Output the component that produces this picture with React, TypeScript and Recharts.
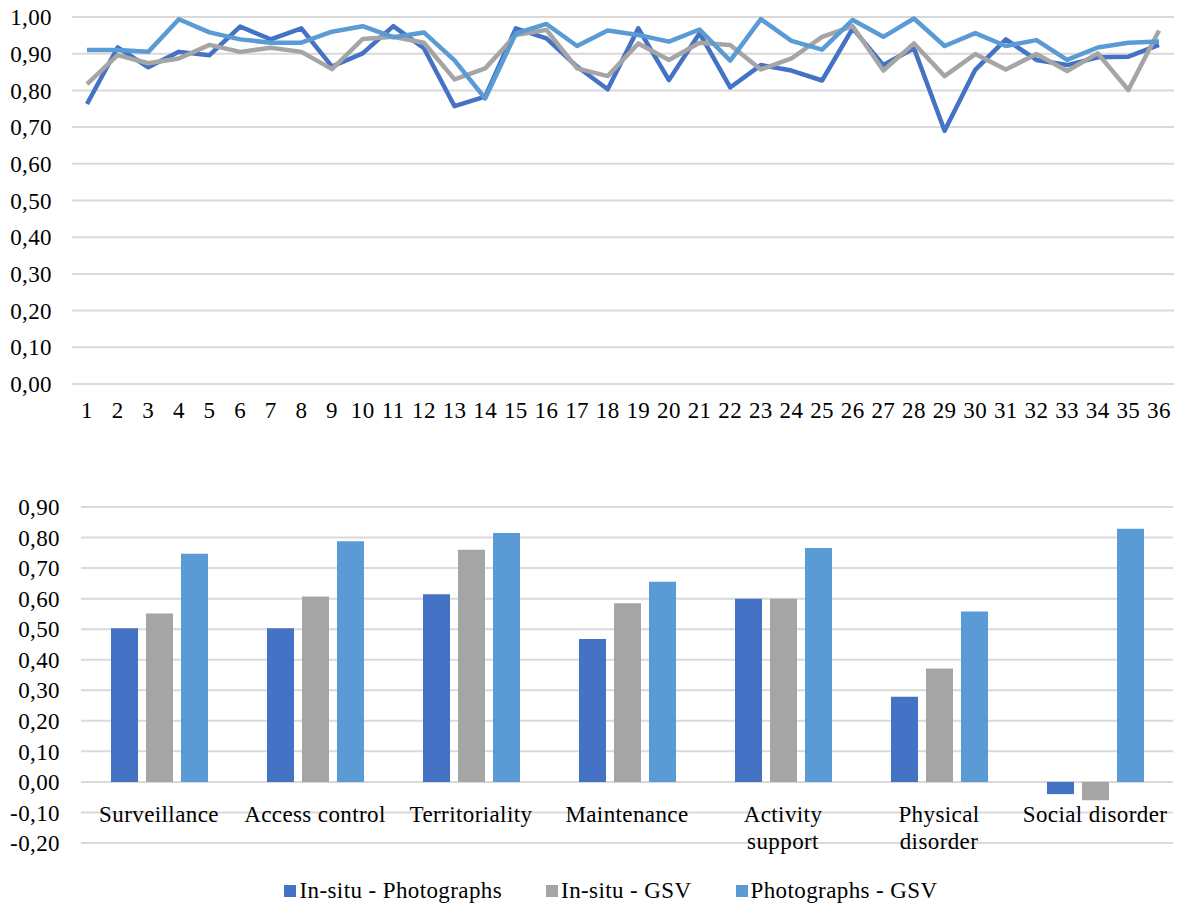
import React from 'react'
import {
  LineChart, Line, BarChart, Bar, XAxis, YAxis, CartesianGrid,
} from 'recharts'

const FONT = '"Liberation Serif", "Times New Roman", serif'
const GRID = '#d9d9d9'

const seriesNames = ['In-situ - Photographs', 'In-situ - GSV', 'Photographs - GSV']
const seriesColors = ['#4472C4', '#A5A5A5', '#5B9BD5']

// top chart: agreement per item (1..36)
const items = Array.from({ length: 36 }, (_, i) => String(i + 1))
const lineInsituPhoto = [
  0.763, 0.917, 0.863, 0.905, 0.896, 0.974, 0.939, 0.969, 0.865, 0.901, 0.975, 0.915,
  0.757, 0.783, 0.969, 0.942, 0.865, 0.803, 0.969, 0.828, 0.956, 0.808, 0.869, 0.854,
  0.827, 0.969, 0.869, 0.915, 0.690, 0.856, 0.939, 0.883, 0.869, 0.890, 0.892, 0.924,
]
const lineInsituGsv = [
  0.817, 0.896, 0.874, 0.887, 0.924, 0.905, 0.916, 0.905, 0.858, 0.940, 0.946, 0.930,
  0.830, 0.860, 0.951, 0.965, 0.860, 0.839, 0.928, 0.883, 0.930, 0.924, 0.857, 0.887,
  0.946, 0.975, 0.854, 0.928, 0.839, 0.899, 0.857, 0.899, 0.853, 0.901, 0.801, 0.963,
]
const linePhotoGsv = [
  0.910, 0.910, 0.905, 0.994, 0.958, 0.939, 0.930, 0.930, 0.960, 0.975, 0.945, 0.958,
  0.882, 0.778, 0.955, 0.981, 0.921, 0.963, 0.951, 0.933, 0.966, 0.881, 0.994, 0.935,
  0.911, 0.992, 0.946, 0.996, 0.921, 0.956, 0.921, 0.937, 0.883, 0.917, 0.930, 0.933,
]
const lineTicks = [0, 0.1, 0.2, 0.3, 0.4, 0.5, 0.6, 0.7, 0.8, 0.9, 1]

// bottom chart: agreement per dimension
const categories = [
  'Surveillance', 'Access control', 'Territoriality', 'Maintenance',
  'Activity support', 'Physical disorder', 'Social disorder',
]
const wrapped = ['Activity support', 'Physical disorder']
const barInsituPhoto = [0.503, 0.503, 0.614, 0.468, 0.600, 0.279, -0.040]
const barInsituGsv = [0.551, 0.607, 0.760, 0.585, 0.600, 0.371, -0.060]
const barPhotoGsv = [0.747, 0.788, 0.815, 0.655, 0.766, 0.558, 0.829]
const barTicks = [-0.2, -0.1, 0, 0.1, 0.2, 0.3, 0.4, 0.5, 0.6, 0.7, 0.8, 0.9]

const lineData = items.map((item, i) => ({
  item, a: lineInsituPhoto[i], b: lineInsituGsv[i], c: linePhotoGsv[i],
}))
const barData = categories.map((name, i) => ({
  name, a: barInsituPhoto[i], b: barInsituGsv[i], c: barPhotoGsv[i],
}))

const fmt = (v: number) => v.toFixed(2).replace('.', ',')
const tickStyle = { fontSize: 23, fill: '#000', fontFamily: FONT, letterSpacing: 0.4 }

const CatTick = ({ x, y, payload }: any) => {
  const label: string = payload.value
  const lines = wrapped.includes(label) ? label.split(' ') : [label]
  return (
    <text textAnchor="middle" fontSize={23} fontFamily={FONT} fill="#000" letterSpacing={0.4}>
      {lines.map((l, i) => (
        <tspan key={i} x={x} y={y - 23 + i * 27}>{l}</tspan>
      ))}
    </text>
  )
}

export default function App() {
  return (
    <div style={{ position: 'absolute', left: 0, top: 0, width: 1180, height: 908, background: '#fff' }}>
      <div style={{ position: 'absolute', left: 0, top: 0 }}>
        <LineChart width={1180} height={440} data={lineData}
          margin={{ top: 17, right: 6, bottom: 16, left: 0 }}>
          <CartesianGrid vertical={false} stroke={GRID} strokeWidth={2} />
          <XAxis dataKey="item" interval={0} padding={{ left: 15, right: 15 }}
            axisLine={false} tickLine={false} tickSize={0} tickMargin={18}
            height={40} tick={tickStyle} />
          <YAxis domain={[0, 1]} ticks={lineTicks} interval={0} tickFormatter={fmt} width={72}
            axisLine={false} tickLine={false} tickSize={0} tickMargin={20}
            tick={tickStyle} />
          {['a', 'b', 'c'].map((k, i) => (
            <Line key={k} type="linear" dataKey={k} name={seriesNames[i]}
              stroke={seriesColors[i]} strokeWidth={4.5} strokeLinejoin="round"
              dot={false} isAnimationActive={false} />
          ))}
        </LineChart>
      </div>

      <div style={{ position: 'absolute', left: 0, top: 480 }}>
        <BarChart width={1180} height={380} data={barData} barSize={27} barGap={8}
          margin={{ top: 27, right: 7, bottom: 0, left: 0 }}>
          <CartesianGrid vertical={false} stroke={GRID} strokeWidth={2} />
          <XAxis dataKey="name" interval={0} axisLine={false} tickLine={false}
            tickSize={0} height={17} tick={<CatTick />} />
          <YAxis domain={[-0.2, 0.9]} ticks={barTicks} interval={0} tickFormatter={fmt} width={81}
            axisLine={false} tickLine={false} tickSize={0} tickMargin={21}
            tick={tickStyle} />
          {['a', 'b', 'c'].map((k, i) => (
            <Bar key={k} dataKey={k} name={seriesNames[i]} fill={seriesColors[i]}
              isAnimationActive={false} />
          ))}
        </BarChart>
      </div>

      <div style={{
        position: 'absolute', left: 0, width: 1222, top: 878, display: 'flex',
        justifyContent: 'center', gap: 44, fontFamily: FONT, fontSize: 23,
        letterSpacing: 0.4, color: '#000',
      }}>
        {seriesNames.map((n, i) => (
          <div key={n} style={{ display: 'flex', alignItems: 'center' }}>
            <span style={{ width: 12, height: 12, background: seriesColors[i], marginRight: 3, display: 'inline-block' }} />
            <span>{n}</span>
          </div>
        ))}
      </div>
    </div>
  )
}
